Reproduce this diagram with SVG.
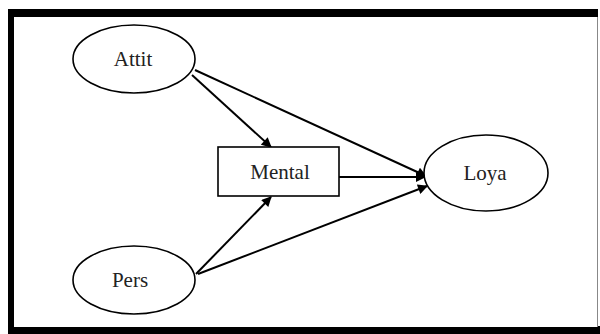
<svg xmlns="http://www.w3.org/2000/svg" width="600" height="334" viewBox="0 0 600 334">
<style>
.n{fill:#fff;stroke:#000;stroke-width:1.6}
.t{font-family:"Liberation Serif",serif;font-size:21px;fill:#222;text-anchor:middle}
.e{stroke:#000;stroke-width:2;fill:none;marker-end:url(#ah)}
</style>
<defs>
<marker id="ah" viewBox="0 0 10 10" refX="9" refY="5" markerWidth="11" markerHeight="10" markerUnits="userSpaceOnUse" orient="auto"><path d="M0,0 L10,5 L0,10 Z" fill="#000"/></marker>
</defs>
<rect x="0" y="0" width="600" height="334" fill="#fff"/>
<rect x="8" y="9" width="590" height="325" fill="#000"/>
<rect x="598" y="326" width="2" height="8" fill="#000"/>
<rect x="14" y="17" width="583" height="310" fill="#fff"/>
<line x1="597.5" y1="17" x2="597.5" y2="327" stroke="#888" stroke-width="1"/>
<g id="connectors">
<line class="e" x1="192" y1="75" x2="271" y2="147"/>
<line class="e" x1="195" y1="70" x2="426" y2="176"/>
<line class="e" x1="339" y1="177" x2="425" y2="177"/>
<line class="e" x1="196" y1="274" x2="271" y2="197"/>
<line class="e" x1="198" y1="274" x2="427" y2="186"/>
</g>
<g id="attit"><ellipse class="n" cx="134" cy="59" rx="61" ry="34"/><text class="t" x="133" y="66">Attit</text></g>
<g id="pers"><ellipse class="n" cx="134" cy="280" rx="61" ry="34"/><text class="t" x="130" y="287">Pers</text></g>
<g id="mental"><rect class="n" x="218" y="147" width="121" height="49"/><text class="t" x="280" y="179">Mental</text></g>
<g id="loya"><ellipse class="n" cx="486" cy="173" rx="62" ry="38"/><text class="t" x="485" y="180">Loya</text></g>
</svg>
